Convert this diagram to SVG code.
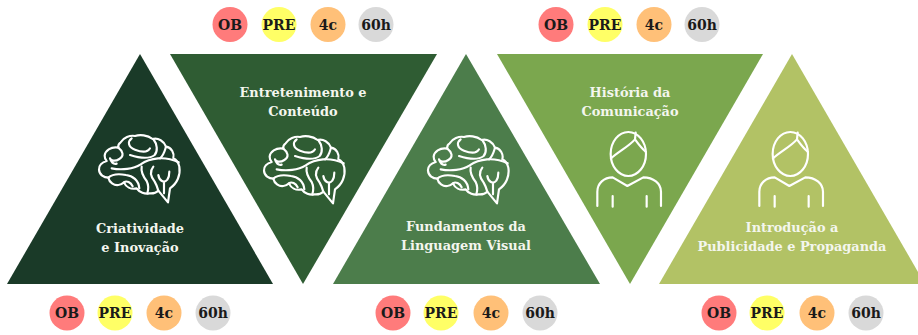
<svg xmlns="http://www.w3.org/2000/svg" xmlns:xlink="http://www.w3.org/1999/xlink" width="918" height="335" viewBox="0 0 918 335">
<style>
text{font-family:"DejaVu Serif","Liberation Serif",serif;font-weight:700;text-anchor:middle}
.t{fill:#f4f6ee;font-size:12.9px}
.b{fill:#1a1a1a;font-size:14px}
.ic{fill:none;stroke:#fff;stroke-width:6.5;stroke-linecap:round;stroke-linejoin:round}
.ob{fill:#ff7b7b}.pre{fill:#ffff66}.c4{fill:#ffc078}.h{fill:#d9d9d9}
</style>
<defs>
<g id="brain" class="ic" transform="scale(0.3333)">
<path d="M205 197L234 232L240 190C262 175 272 150 268 125C265 110 258 104 250 100C254 85 245 68 228 65C222 48 205 38 188 42C172 30 150 28 135 33C120 30 100 38 92 52C85 56 84 62 85 68C62 64 45 78 44 92C44 100 46 104 50 108C36 112 26 122 27 134C28 150 42 158 55 158C58 172 72 182 85 180C92 180 98 176 102 172C108 186 122 194 140 190C148 202 165 208 178 205C188 206 198 204 205 197Z"/>
<path d="M125 40C112 50 114 66 135 74C150 80 172 84 180 70M190 42C202 58 204 78 194 90C176 104 145 98 120 90M228 65C224 78 222 90 210 100M85 68C98 78 104 92 88 102C76 110 62 108 60 100M60 100C64 112 72 118 80 116"/>
<path d="M65 130C95 136 130 132 152 118C180 98 225 92 266 112M55 158C68 146 88 146 108 150C128 152 146 166 148 190M102 172C110 166 122 172 128 184M155 125C152 142 160 155 170 168C176 180 176 192 172 205M190 125C178 140 182 155 194 170C200 180 203 190 205 197M205 150C208 168 222 176 232 164C238 155 238 148 238 140M222 172V205"/>
</g>
<g id="person" class="ic" transform="scale(0.3333)">
<ellipse cx="115" cy="102" rx="53" ry="66"/>
<path d="M63 115C85 95 118 78 135 58L137 38M135 58C145 72 155 85 168 96"/>
<path d="M22 258V215C22 190 42 172 68 172L112 198L160 172C190 172 213 190 213 215V258M68 228V260M170 228V260"/>
</g>
</defs>
<g id="connectors"></g>
<g id="node-criatividade">
<polygon points="140,54 7,284 273,284" fill="#1a3a28"/>
<use xlink:href="#brain" href="#brain" transform="translate(90,125)"/>
<text class="t" x="140" y="233">Criatividade</text><text class="t" x="140" y="252">e Inovação</text>
<circle class="ob" cx="67" cy="313" r="17.500"/><text class="b" x="67" y="318">OB</text>
<circle class="pre" cx="115" cy="313" r="17.500"/><text class="b" x="115" y="318">PRE</text>
<circle class="c4" cx="164" cy="313" r="17.500"/><text class="b" x="164" y="318">4c</text>
<circle class="h" cx="213" cy="313" r="17.500"/><text class="b" x="213" y="318">60h</text>
</g>
<g id="node-entretenimento">
<polygon points="170,54 437,54 303,284" fill="#2f5c33"/>
<use xlink:href="#brain" href="#brain" transform="translate(255,126)"/>
<text class="t" x="303" y="97">Entretenimento e</text><text class="t" x="303" y="116">Conteúdo</text>
<circle class="ob" cx="230" cy="24.500" r="17.500"/><text class="b" x="230" y="29.500">OB</text>
<circle class="pre" cx="279" cy="24.500" r="17.500"/><text class="b" x="279" y="29.500">PRE</text>
<circle class="c4" cx="328" cy="24.500" r="17.500"/><text class="b" x="328" y="29.500">4c</text>
<circle class="h" cx="376" cy="24.500" r="17.500"/><text class="b" x="376" y="29.500">60h</text>
</g>
<g id="node-fundamentos">
<polygon points="466,54 333,284 600,284" fill="#4c7d4b"/>
<use xlink:href="#brain" href="#brain" transform="translate(419,126)"/>
<text class="t" x="466" y="231">Fundamentos da</text><text class="t" x="466" y="250">Linguagem Visual</text>
<circle class="ob" cx="393" cy="313" r="17.500"/><text class="b" x="393" y="318">OB</text>
<circle class="pre" cx="441" cy="313" r="17.500"/><text class="b" x="441" y="318">PRE</text>
<circle class="c4" cx="491" cy="313" r="17.500"/><text class="b" x="491" y="318">4c</text>
<circle class="h" cx="540" cy="313" r="17.500"/><text class="b" x="540" y="318">60h</text>
</g>
<g id="node-historia">
<polygon points="497,54 763,54 630,284" fill="#7ba74e"/>
<use xlink:href="#person" href="#person" transform="translate(590,120)"/>
<text class="t" x="630" y="97">História da</text><text class="t" x="630" y="116">Comunicação</text>
<circle class="ob" cx="556" cy="24.500" r="17.500"/><text class="b" x="556" y="29.500">OB</text>
<circle class="pre" cx="605" cy="24.500" r="17.500"/><text class="b" x="605" y="29.500">PRE</text>
<circle class="c4" cx="654" cy="24.500" r="17.500"/><text class="b" x="654" y="29.500">4c</text>
<circle class="h" cx="702" cy="24.500" r="17.500"/><text class="b" x="702" y="29.500">60h</text>
</g>
<g id="node-introducao">
<polygon points="792,54 659,284 925,284" fill="#b2c265"/>
<use xlink:href="#person" href="#person" transform="translate(752,120)"/>
<text class="t" x="792" y="232">Introdução a</text><text class="t" x="792" y="251">Publicidade e Propaganda</text>
<circle class="ob" cx="719" cy="313" r="17.500"/><text class="b" x="719" y="318">OB</text>
<circle class="pre" cx="767" cy="313" r="17.500"/><text class="b" x="767" y="318">PRE</text>
<circle class="c4" cx="817" cy="313" r="17.500"/><text class="b" x="817" y="318">4c</text>
<circle class="h" cx="866" cy="313" r="17.500"/><text class="b" x="866" y="318">60h</text>
</g>
</svg>
